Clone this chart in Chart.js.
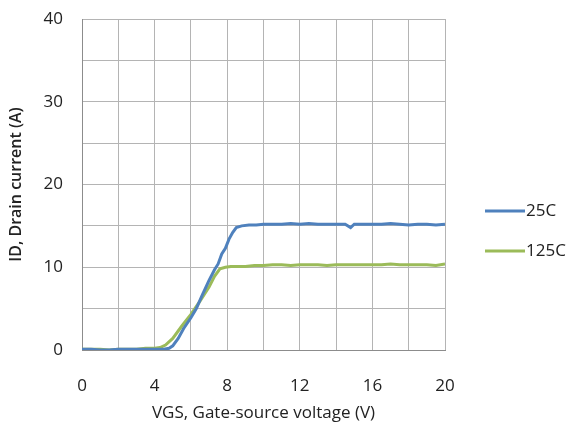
<!DOCTYPE html>
<html>
<head>
<meta charset="utf-8">
<script src="https://cdn.jsdelivr.net/npm/chart.js@4"></script>
<style>
  html, body { margin: 0; padding: 0; background: #fff; }
  #wrap { width: 573px; height: 441px; }
</style>
</head>
<body>
<div id="wrap"><canvas id="idChart" width="573" height="441"></canvas></div>
<script>
// VGS (V) and ID (A)
const seriesNames = ['25C', '125C'];
const vgs25 = [0, 0.5, 1, 1.5, 2, 2.5, 3, 3.5, 4, 4.5, 4.8, 5.0, 5.3, 5.6, 6.0, 6.3, 6.6, 7.0, 7.3, 7.5, 7.7, 7.9, 8.1, 8.3, 8.5, 8.8, 9.2, 9.6, 10, 10.5, 11, 11.5, 12, 12.5, 13, 13.5, 14, 14.5, 14.8, 15, 15.5, 16, 16.5, 17, 17.5, 18, 18.5, 19, 19.5, 20];
const id25 = [0.1, 0.1, 0, 0, 0.1, 0.1, 0.1, 0.1, 0.1, 0.1, 0.2, 0.5, 1.4, 2.6, 3.9, 5.0, 6.5, 8.4, 9.7, 10.4, 11.6, 12.3, 13.4, 14.2, 14.8, 15.0, 15.1, 15.1, 15.2, 15.2, 15.2, 15.3, 15.2, 15.3, 15.2, 15.2, 15.2, 15.2, 14.8, 15.2, 15.2, 15.2, 15.2, 15.3, 15.2, 15.1, 15.2, 15.2, 15.1, 15.2];
const vgs125 = [0, 0.5, 1, 1.5, 2, 2.5, 3, 3.5, 4, 4.3, 4.6, 5.0, 5.5, 6.0, 6.5, 7.0, 7.3, 7.6, 7.9, 8.2, 8.6, 9, 9.5, 10, 10.5, 11, 11.5, 12, 12.5, 13, 13.5, 14, 14.5, 15, 15.5, 16, 16.5, 17, 17.5, 18, 18.5, 19, 19.5, 20];
const id125 = [0.1, 0.1, 0.1, 0, 0.1, 0.1, 0.1, 0.2, 0.2, 0.3, 0.6, 1.4, 2.9, 4.3, 5.9, 7.6, 8.9, 9.8, 10.0, 10.1, 10.1, 10.1, 10.2, 10.2, 10.3, 10.3, 10.2, 10.3, 10.3, 10.3, 10.2, 10.3, 10.3, 10.3, 10.3, 10.3, 10.3, 10.4, 10.3, 10.3, 10.3, 10.3, 10.2, 10.4];
const xTicks = [0, 4, 8, 12, 16, 20];
const yTicks = [0, 10, 20, 30, 40];

const colors = ['#4F81BD', '#9BBB59'];
const fontFam = "'Open Sans', 'Liberation Sans', sans-serif";

function toPoints(xs, ys) {
    return xs.map(function(x, i) { return { x: x, y: ys[i] }; });
}

// legend drawn by hand to the right of the plot
const sideLegend = {
    id: 'sideLegend',
    afterDraw: function(chart) {
        const ctx = chart.ctx;
        ctx.save();
        ctx.font = '17px ' + fontFam;
        ctx.textBaseline = 'middle';
        ctx.fillStyle = '#222';
        chart.data.datasets.forEach(function(ds, i) {
            const y = 211 + i * 40;
            ctx.strokeStyle = ds.borderColor;
            ctx.lineWidth = 3;
            ctx.beginPath();
            ctx.moveTo(485, y);
            ctx.lineTo(525, y);
            ctx.stroke();
            ctx.fillText(ds.label, 526, y);
        });
        ctx.restore();
    }
};

const ctx = document.getElementById('idChart').getContext('2d');
const idChart = new Chart(ctx, {
    type: 'line',
    data: {
        datasets: [
            { label: seriesNames[0], data: toPoints(vgs25, id25), borderColor: colors[0], backgroundColor: colors[0] },
            { label: seriesNames[1], data: toPoints(vgs125, id125), borderColor: colors[1], backgroundColor: colors[1] }
        ]
    },
    options: {
        responsive: false,
        animation: false,
        layout: { padding: { left: 0, top: 19, right: 128, bottom: 0 } },
        elements: {
            line: { borderWidth: 3, tension: 0 },
            point: { radius: 0 }
        },
        plugins: {
            legend: { display: false },
            tooltip: { enabled: false }
        },
        scales: {
            x: {
                type: 'linear',
                min: 0,
                max: 20,
                afterFit: function(s) {
                    s.height = 91;
                    s.paddingLeft = 0;
                    s.paddingRight = 0;
                },
                afterBuildTicks: function(s) {
                    s.ticks = [];
                    for (let v = 0; v <= 20; v += 2) s.ticks.push({ value: v });
                },
                grid: { color: '#b4b4b4', lineWidth: 1, drawTicks: false },
                border: { color: '#8c8c8c', width: 1 },
                ticks: {
                    padding: 26,
                    color: '#222',
                    font: { family: fontFam, size: 17 },
                    maxRotation: 0,
                    autoSkip: false,
                    callback: function(v) { return xTicks.indexOf(v) >= 0 ? String(v) : ''; }
                },
                title: {
                    display: true,
                    text: 'VGS, Gate-source voltage (V)',
                    color: '#222',
                    font: { family: fontFam, size: 17 },
                    padding: { top: 0, bottom: 18 }
                }
            },
            y: {
                min: 0,
                max: 40,
                afterFit: function(s) {
                    s.width = 82;
                    s.paddingTop = 0;
                    s.paddingBottom = 0;
                },
                afterBuildTicks: function(s) {
                    s.ticks = [];
                    for (let v = 0; v <= 40; v += 5) s.ticks.push({ value: v });
                },
                grid: { color: '#b4b4b4', lineWidth: 1, drawTicks: false },
                border: { color: '#8c8c8c', width: 1 },
                ticks: {
                    padding: 19,
                    color: '#222',
                    font: { family: fontFam, size: 17 },
                    autoSkip: false,
                    callback: function(v) { return yTicks.indexOf(v) >= 0 ? String(v) : ''; }
                },
                title: {
                    display: true,
                    text: 'ID, Drain current (A)',
                    color: '#222',
                    font: { family: fontFam, size: 16, weight: '600' },
                    padding: { top: 7, bottom: 0 }
                }
            }
        }
    },
    plugins: [sideLegend]
});
</script>
</body>
</html>
